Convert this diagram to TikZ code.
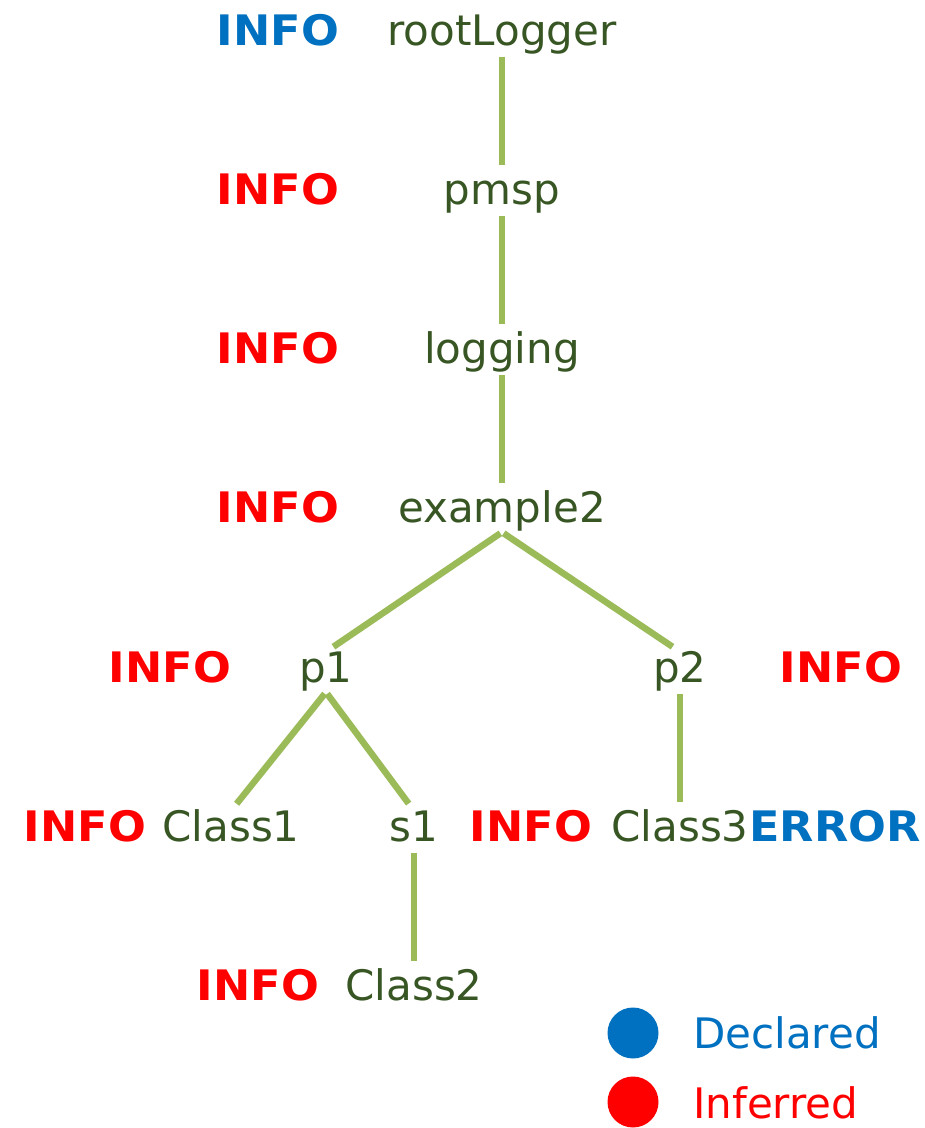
\documentclass[tikz,border=0pt]{standalone}
\usepackage{fontspec}
\setmainfont{DejaVu Sans}
\newfontfamily\levelfont{DejaVu Sans}[FakeStretch=1.06]
\definecolor{treegreen}{HTML}{375623}
\definecolor{edgegreen}{HTML}{9BBB59}
\definecolor{declblue}{HTML}{0070C0}
\definecolor{infred}{HTML}{FF0000}

\begin{document}
\begin{tikzpicture}[x=1pt,y=-1pt,
  logger/.style={text=treegreen, font=\fontsize{42}{50}\selectfont,
    inner sep=0pt, text height=30pt, text depth=10pt, anchor=base},
  level/.style={font=\levelfont\fontsize{42}{50}\selectfont\bfseries, inner sep=0pt, anchor=base},
  declared/.style={level, text=declblue},
  inferred/.style={level, text=infred},
  branch/.style={draw=edgegreen, line width=6.5pt, shorten <=2pt, shorten >=9pt},
  legenddot/.style={circle, inner sep=0pt, minimum size=51pt},
  legendtext/.style={font=\fontsize{42}{50}\selectfont, inner sep=0pt, anchor=base west}]

\useasboundingbox (0,0) rectangle (925,1128);

% logger hierarchy
\node[logger] (root)     at (502,45)  {rootLogger};
\node[logger] (pmsp)     at (502,204) {pmsp};
\node[logger] (logging)  at (502,363) {logging};
\node[logger] (example2) at (502,522) {example2};
\node[logger] (p1)       at (326,682) {p1};
\node[logger] (p2)       at (680,682) {p2};
\node[logger] (class1)   at (231,841) {Class1};
\node[logger] (s1)       at (414,841) {s1};
\node[logger] (class3)   at (680,841) {Class3};
\node[logger] (class2)   at (414,1000) {Class2};

% effective levels
\node[declared] (lvRoot)    at (278,45)  {INFO};
\node[inferred] (lvPmsp)    at (278,204) {INFO};
\node[inferred] (lvLogging) at (278,363) {INFO};
\node[inferred] (lvExample) at (278,522) {INFO};
\node[inferred] (lvP1)      at (170,682) {INFO};
\node[inferred] (lvP2)      at (841,682) {INFO};
\node[inferred] (lvClass1)  at (85,841)  {INFO};
\node[inferred] (lvS1)      at (531,841) {INFO};
\node[declared] (lvClass3)  at (835,841) {ERROR};
\node[inferred] (lvClass2)  at (258,1000) {INFO};

% parent-child links
\draw[branch] (root.south) -- (pmsp.north);
\draw[branch] (pmsp.south) -- (logging.north);
\draw[branch] (logging.south) -- (example2.north);
\draw[branch] (example2.south) -- (p1.north);
\draw[branch] (example2.south) -- (p2.north);
\draw[branch] (p1.south) -- (class1.north);
\draw[branch] (p1.south) -- (s1.north);
\draw[branch] (p2.south) -- (class3.north);
\draw[branch] (s1.south) -- (class2.north);

% legend
\node[legenddot, fill=declblue] (dotDecl) at (633,1033) {};
\node[legenddot, fill=infred]   (dotInf)  at (633,1102) {};
\node[legendtext, text=declblue] (txtDecl) at (693,1048) {Declared};
\node[legendtext, text=infred]   (txtInf)  at (693,1118) {Inferred};
\end{tikzpicture}
\end{document}
